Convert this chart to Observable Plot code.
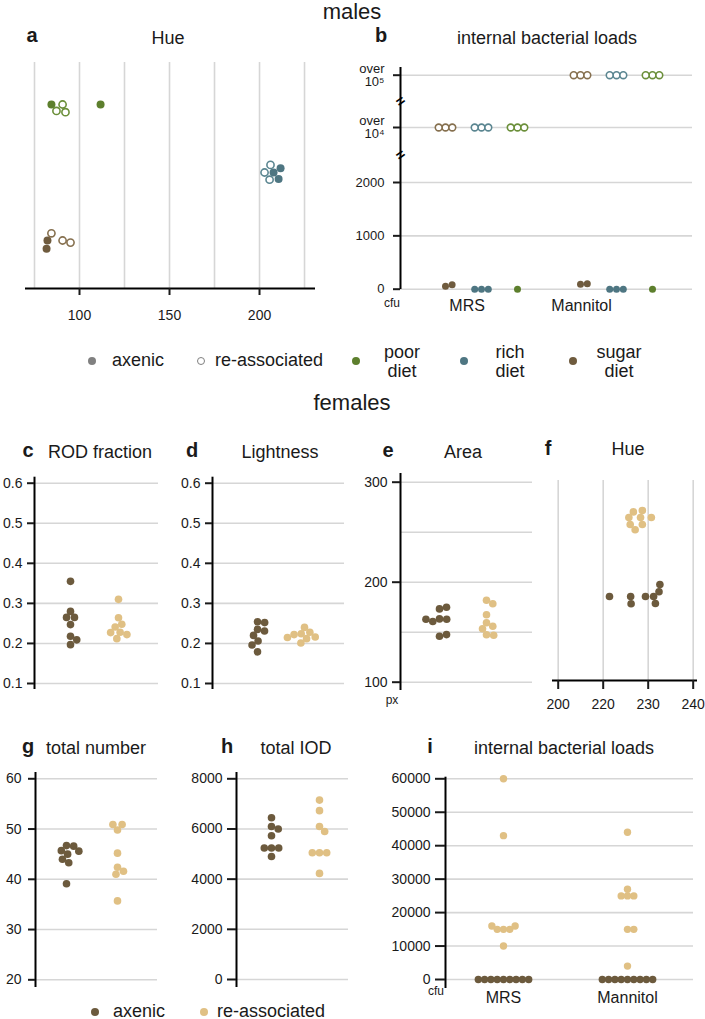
<!DOCTYPE html>
<html><head><meta charset="utf-8">
<script src="https://cdn.jsdelivr.net/npm/d3@7"></script>
<script src="https://cdn.jsdelivr.net/npm/@observablehq/plot@0.6"></script>
<style>
html,body{margin:0;padding:0;background:#fff;overflow:hidden}
#fig{position:relative;width:705px;height:1019px;font-family:"Liberation Sans",Arial,sans-serif;color:#1a1a1a}
#fig svg{position:absolute;left:0;top:0}
.t{position:absolute;transform:translate(-50%,-50%);white-space:nowrap;line-height:1}
.l{position:absolute;transform:translate(0,-50%);white-space:nowrap;line-height:1;font-size:18px}
.big{font-size:22px}
.ttl{font-size:18px}
.let{font-size:20px;font-weight:bold}
.unit{font-size:12px}
.two{text-align:center;font-size:18px;line-height:1.05}
.dot{position:absolute;width:8px;height:8px;border-radius:50%;transform:translate(-50%,-50%);box-sizing:border-box}
</style></head>
<body>
<div id="fig">
  <div class="t big" style="left:352px;top:12px">males</div>
  <div class="t let" style="left:32px;top:35px">a</div>
  <div class="t ttl" style="left:168px;top:38px">Hue</div>
  <div class="t let" style="left:381px;top:35px">b</div>
  <div class="t ttl" style="left:547px;top:38px">internal bacterial loads</div>
  <div class="t unit" style="left:392px;top:303px">cfu</div>

  <span class="dot" style="left:92px;top:361px;background:#808080"></span>
  <div class="l" style="left:112px;top:360px">axenic</div>
  <span class="dot" style="left:201px;top:361px;background:#fff;border:1.5px solid #808080"></span>
  <div class="l" style="left:215px;top:360px">re-associated</div>
  <span class="dot" style="left:356px;top:361px;background:#5d7f2d"></span>
  <div class="t two" style="left:402px;top:362px">poor<br>diet</div>
  <span class="dot" style="left:464px;top:361px;background:#4e7682"></span>
  <div class="t two" style="left:510px;top:362px">rich<br>diet</div>
  <span class="dot" style="left:573px;top:361px;background:#6f5b3e"></span>
  <div class="t two" style="left:619px;top:362px">sugar<br>diet</div>

  <div class="t big" style="left:352px;top:403px">females</div>
  <div class="t let" style="left:28px;top:450px">c</div>
  <div class="t ttl" style="left:100px;top:452px">ROD fraction</div>
  <div class="t let" style="left:192px;top:450px">d</div>
  <div class="t ttl" style="left:280px;top:452px">Lightness</div>
  <div class="t let" style="left:388px;top:450px">e</div>
  <div class="t ttl" style="left:463px;top:452px">Area</div>
  <div class="t let" style="left:548px;top:448px">f</div>
  <div class="t ttl" style="left:628px;top:449px">Hue</div>
  <div class="t unit" style="left:392px;top:700px">px</div>

  <div class="t let" style="left:28px;top:746px">g</div>
  <div class="t ttl" style="left:96px;top:748px">total number</div>
  <div class="t let" style="left:227px;top:746px">h</div>
  <div class="t ttl" style="left:296px;top:748px">total IOD</div>
  <div class="t let" style="left:430px;top:746px">i</div>
  <div class="t ttl" style="left:564px;top:748px">internal bacterial loads</div>
  <div class="t unit" style="left:436px;top:991px">cfu</div>

  <span class="dot" style="left:95px;top:1012px;background:#6c5a3d"></span>
  <div class="l" style="left:113px;top:1011px">axenic</div>
  <span class="dot" style="left:204px;top:1012px;background:#e0c084"></span>
  <div class="l" style="left:217px;top:1011px">re-associated</div>
</div>
<script>
// ================= DATA =================
const maleDiets = ["poor diet", "rich diet", "sugar diet"];
const media = ["MRS", "Mannitol"];
const treatments = ["axenic", "re-associated"];

// a — males, Hue (one array per diet and treatment)
const aHuePoorAxenic = [84.4, 111.7];
const aHuePoorReassoc = [87.2, 90.6, 92.2];
const aHueRichAxenic = [207.8, 210.6, 211.7];
const aHueRichReassoc = [202.8, 205.6, 206.1];
const aHueSugarAxenic = [82.2, 81.7];
const aHueSugarReassoc = [84.4, 90.6, 95.0];
const aGridTicks = [75, 100, 125, 150, 175, 200, 225];
const aLabelTicks = [100, 150, 200];

// b — males, internal bacterial loads (cfu); re-associated flies reported as "over 10^4" / "over 10^5"
const bDietOrder = ["sugar diet", "rich diet", "poor diet"];
const bMRSAxenicSugar = [55, 85];
const bMRSAxenicRich = [0, 0, 0];
const bMRSAxenicPoor = [0];
const bMRSReassocSugar = [10000, 10000, 10000];
const bMRSReassocRich = [10000, 10000, 10000];
const bMRSReassocPoor = [10000, 10000, 10000];
const bMannitolAxenicSugar = [95, 100];
const bMannitolAxenicRich = [0, 0, 0];
const bMannitolAxenicPoor = [0];
const bMannitolReassocSugar = [100000, 100000, 100000];
const bMannitolReassocRich = [100000, 100000, 100000];
const bMannitolReassocPoor = [100000, 100000, 100000];
const bTicks = [0, 1000, 2000, 10000, 100000];
const bTickLabels = ["0", "1000", "2000", "over\n10\u2074", "over\n10\u2075"];

// c — females, ROD fraction
const cRODAxenic = [0.355, 0.28, 0.265, 0.265, 0.247, 0.218, 0.209, 0.197];
const cRODReassoc = [0.31, 0.264, 0.248, 0.241, 0.228, 0.227, 0.222, 0.212];
const cTicks = [0.1, 0.2, 0.3, 0.4, 0.5, 0.6];
// d — females, Lightness
const dLightAxenic = [0.254, 0.252, 0.235, 0.231, 0.22, 0.206, 0.196, 0.179];
const dLightReassoc = [0.24, 0.228, 0.224, 0.222, 0.216, 0.215, 0.212, 0.201];
const dTicks = [0.1, 0.2, 0.3, 0.4, 0.5, 0.6];
// e — females, Area (px)
const eAreaAxenic = [163.3, 163, 160.7, 163, 173.3, 175, 146, 147.6];
const eAreaReassoc = [182, 178.5, 167.5, 159.5, 156, 153.5, 147.5, 147];
const eTicks = [100, 200, 300];
const eGridTicks = [100, 150, 200, 250, 300];
// f — females, Hue
const fHueAxenic = [221.4, 226.1, 226.2, 229.4, 231.2, 231.6, 232.4, 232.6];
const fHueReassoc = [225.7, 226.0, 226.7, 227.1, 228.3, 228.7, 228.7, 230.7];
const fTicks = [210, 220, 230, 240];
const fTickLabels = ["200", "220", "230", "240"];
// g — females, total number
const gNumAxenic = [46.7, 46.6, 45.7, 45.6, 45.0, 44.0, 43.3, 39.1];
const gNumReassoc = [49.8, 50.9, 50.9, 45.2, 42.4, 41.6, 41.0, 35.7];
const gTicks = [20, 30, 40, 50, 60];
// h — females, total IOD
const hIODAxenic = [6450, 6100, 6000, 5730, 5240, 5240, 5240, 4900];
const hIODReassoc = [7150, 6730, 6100, 5900, 5050, 5050, 5050, 4230];
const hTicks = [0, 2000, 4000, 6000, 8000];
// i — females, internal bacterial loads (cfu)
const iMRSAxenic = [0, 0, 0, 0, 0, 0, 0, 0, 0];
const iMRSReassoc = [60000, 43000, 15000, 15000, 15000, 16000, 16000, 10000];
const iMannitolAxenic = [0, 0, 0, 0, 0, 0, 0, 0, 0];
const iMannitolReassoc = [44000, 25000, 25000, 25000, 27000, 15000, 15000, 4000];
const iTicks = [0, 10000, 20000, 30000, 40000, 50000, 60000];

// ================= STYLE =================
const W = 705, H = 1019;
const FONT = '"Liberation Sans", Arial, sans-serif';
const GRID = "#d6d6d6";
const STYLE = {background: "none", fontFamily: FONT, fontSize: "14px", color: "#1a1a1a", overflow: "visible"};
const dietFill = {"poor diet": "#5d7f2d", "rich diet": "#4e7682", "sugar diet": "#6f5b3e"};
const dietStroke = {"poor diet": "#6b8f3a", "rich diet": "#5b8691", "sugar diet": "#86704f"};
const femaleFill = {"axenic": "#6c5a3d", "re-associated": "#e0c084"};
const fig = document.getElementById("fig");
const box = (x0, x1, y0, y1) => ({width: W, height: H, marginLeft: x0, marginRight: W - x1, marginTop: y0, marginBottom: H - y1});

// greedy beeswarm: offsets (px) across the value axis, per slot
function swarm(items, posPx, dist) {
  const groups = new Map();
  for (const it of items) {
    const p = posPx(it.value);
    const placed = groups.get(it.slot) ?? [];
    const cands = [0];
    for (const q of placed) {
      const d = Math.abs(p - q.p);
      if (d < dist) { const h = Math.sqrt(dist * dist - d * d); cands.push(q.o + h, q.o - h); }
    }
    cands.sort((a, b) => Math.abs(a) - Math.abs(b) || b - a);
    const ok = c => placed.every(q => (p - q.p) ** 2 + (c - q.o) ** 2 >= dist * dist - 0.5);
    const off = cands.find(ok) ?? 0;
    placed.push({p, o: off});
    groups.set(it.slot, placed);
    it.off = off;
  }
  return items;
}
const rows = (values, props) => values.map(value => ({value, ...props}));

// ---------- row panels (a, f): value on x, groups stacked on y ----------
function rowPanel({x0, x1, y0, y1, xDomain, rowCenters, items, dist, grid, ticks, fmt, tickSize, tickPadding, rFill, rOpen}) {
  const ppu = rowCenters[1] - rowCenters[0];
  const yDomain = [(y0 - rowCenters[0]) / ppu, (y1 - rowCenters[0]) / ppu];
  swarm(items, d3.scaleLinear(xDomain, [x0, x1]), dist);
  for (const d of items) d.y = d.slot + d.off / ppu;
  return Plot.plot({
    ...box(x0, x1, y0, y1), style: STYLE,
    x: {type: "linear", domain: xDomain, label: null},
    y: {type: "linear", domain: yDomain, reverse: true, axis: null, label: null},
    color: {type: "identity"},
    marks: [
      Plot.ruleX(grid, {stroke: GRID, strokeWidth: 1.6}),
      Plot.ruleY([yDomain[1]], {stroke: "black", strokeWidth: 2}),
      Plot.axisX({ticks, tickFormat: fmt, tickSize, tickPadding, strokeWidth: 2, fontSize: 14, label: null}),
      Plot.dot(items.filter(d => !d.open), {x: "value", y: "y", r: rFill, fill: "color"}),
      Plot.dot(items.filter(d => d.open), {x: "value", y: "y", r: rOpen, fill: "white", stroke: "color", strokeWidth: 1.6})
    ]
  });
}

// ---------- column panels (b, c, d, e, g, h, i): value on y, groups side by side ----------
function columnPanel({x0, x1, y0, y1, slotPx, yScale, yPx, items, dist, ticks, grid = ticks, fmt = d => String(d), tickSize = 7, tickPadding = 5, fontSize = 14, r = 3.8, rOpen = 3.4, xTicks = null, xFmt = null, xPad = 3, extra = []}) {
  const ppu = slotPx[1] - slotPx[0];
  const xDomain = [(x0 - slotPx[0]) / ppu, (x1 - slotPx[0]) / ppu];
  swarm(items, yPx, dist);
  for (const d of items) d.x = d.slot + d.off / ppu;
  const marks = [
    Plot.ruleY(grid, {stroke: GRID, strokeWidth: 1.6}),
    Plot.ruleX([xDomain[0]], {stroke: "black", strokeWidth: 2}),
    Plot.axisY({ticks, tickFormat: fmt, tickSize, tickPadding, strokeWidth: 2, fontSize, lineHeight: 1, label: null}),
    ...extra.map(f => f(xDomain)),
    Plot.dot(items.filter(d => !d.open), {x: "x", y: "value", r, fill: "color"}),
    Plot.dot(items.filter(d => d.open), {x: "x", y: "value", r: rOpen, fill: "white", stroke: "color", strokeWidth: 1.6})
  ];
  if (xTicks) marks.push(Plot.axisX({ticks: xTicks, tickFormat: xFmt, tickSize: 0, tickPadding: xPad, fontSize: 16, label: null}));
  return Plot.plot({
    ...box(x0, x1, y0, y1), style: STYLE,
    x: {type: "linear", domain: xDomain, label: null, ...(xTicks ? {} : {axis: null})},
    y: {type: "linear", ...yScale, label: null},
    color: {type: "identity"},
    marks
  });
}

// ===== a =====
{
  const aAx = [aHuePoorAxenic, aHueRichAxenic, aHueSugarAxenic];
  const aRe = [aHuePoorReassoc, aHueRichReassoc, aHueSugarReassoc];
  const items = [];
  maleDiets.forEach((diet, i) => {
    items.push(...rows(aAx[i], {slot: i, color: dietFill[diet], open: false}));
    items.push(...rows(aRe[i], {slot: i, color: dietStroke[diet], open: true}));
  });
  fig.appendChild(rowPanel({x0: 25, x1: 315, y0: 62, y1: 288, xDomain: [70, 231.1], rowCenters: [104, 172],
    items, dist: 8.2, grid: aGridTicks, ticks: aLabelTicks, fmt: d => String(d), tickSize: 7, tickPadding: 15, rFill: 4, rOpen: 3.6}));
}

// ===== b =====
{
  const table = {
    MRS: {ax: [bMRSAxenicSugar, bMRSAxenicRich, bMRSAxenicPoor], re: [bMRSReassocSugar, bMRSReassocRich, bMRSReassocPoor]},
    Mannitol: {ax: [bMannitolAxenicSugar, bMannitolAxenicRich, bMannitolAxenicPoor], re: [bMannitolReassocSugar, bMannitolReassocRich, bMannitolReassocPoor]}
  };
  const mediumGap = 3.75; // slots between media
  const items = [];
  media.forEach((m, mi) => bDietOrder.forEach((diet, k) => {
    const slot = mi * mediumGap + k;
    items.push(...rows(table[m].ax[k], {slot, color: dietFill[diet], open: false}));
    items.push(...rows(table[m].re[k], {slot, color: dietStroke[diet], open: true}));
  }));
  const bRange = [288.7, 182, 127, 74.7];
  const yDom = [0, 2000, 10000, 100000];
  const yPx = d3.scaleLinear(yDom, bRange);
  const breaks = [(2000 + 10000) / 2, (10000 + 100000) / 2];
  const labelSlots = [0.6, 3.78];
  fig.appendChild(columnPanel({x0: 400, x1: 692, y0: 67, y1: 289, slotPx: [445, 481],
    yScale: {domain: yDom, range: bRange}, yPx, items, dist: 6.8,
    ticks: bTicks, fmt: d => bTickLabels[bTicks.indexOf(d)], tickSize: 7, tickPadding: 9, fontSize: 13,
    r: 3.5, rOpen: 3.4,
    xTicks: labelSlots, xFmt: d => media[labelSlots.indexOf(d)], xPad: 10,
    extra: [xd => Plot.text(breaks, {x: xd[0], y: d => d, text: () => "=", rotate: -35, fontSize: 15, fontWeight: "bold", fill: "black"})]
  }));
}

// ===== female column panels =====
function femaleItems(ax, re) {
  return [...rows(ax, {slot: 0, color: femaleFill.axenic, open: false}),
          ...rows(re, {slot: 1, color: femaleFill["re-associated"], open: false})];
}
function linearPanel(o) {
  const yPx = d3.scaleLinear(o.yDomain, [o.y1, o.y0]);
  return columnPanel({...o, yPx, yScale: {domain: o.yDomain}});
}
fig.appendChild(linearPanel({x0: 34, x1: 158, y0: 476.7, y1: 689, slotPx: [70, 118], yDomain: [0.085, 0.615],
  items: femaleItems(cRODAxenic, cRODReassoc), dist: 7.2, ticks: cTicks, fmt: d3.format(".1f")}));
fig.appendChild(linearPanel({x0: 212, x1: 344, y0: 476.7, y1: 689, slotPx: [257, 304], yDomain: [0.085, 0.615],
  items: femaleItems(dLightAxenic, dLightReassoc), dist: 7.2, ticks: dTicks, fmt: d3.format(".1f")}));
fig.appendChild(linearPanel({x0: 400, x1: 532, y0: 473, y1: 690, slotPx: [439, 486], yDomain: [91.7, 308.7],
  items: femaleItems(eAreaAxenic, eAreaReassoc), dist: 7.2, ticks: eTicks, grid: eGridTicks, tickSize: 8}));
fig.appendChild(linearPanel({x0: 35, x1: 157, y0: 772, y1: 987, slotPx: [66, 117], yDomain: [18.47, 61.25],
  items: femaleItems(gNumAxenic, gNumReassoc), dist: 7.2, ticks: gTicks, tickPadding: 7}));
fig.appendChild(linearPanel({x0: 236, x1: 348, y0: 772, y1: 987, slotPx: [271, 319], yDomain: [-319, 8251],
  items: femaleItems(hIODAxenic, hIODReassoc), dist: 7.2, ticks: hTicks, tickSize: 9}));
{
  const items = [
    ...rows(iMRSAxenic, {slot: 0, color: femaleFill.axenic, open: false}),
    ...rows(iMRSReassoc, {slot: 0, color: femaleFill["re-associated"], open: false}),
    ...rows(iMannitolAxenic, {slot: 1, color: femaleFill.axenic, open: false}),
    ...rows(iMannitolReassoc, {slot: 1, color: femaleFill["re-associated"], open: false})
  ];
  fig.appendChild(linearPanel({x0: 445, x1: 693, y0: 776.7, y1: 988, slotPx: [503, 627], yDomain: [-2690, 60478],
    items, dist: 6.3, ticks: iTicks, tickSize: 10, r: 3.7,
    xTicks: [0, 1], xFmt: d => media[d], xPad: 3}));
}

// ===== f =====
{
  const items = [
    ...rows(fHueReassoc, {slot: 0, color: femaleFill["re-associated"], open: false}),
    ...rows(fHueAxenic, {slot: 1, color: femaleFill.axenic, open: false})
  ];
  fig.appendChild(rowPanel({x0: 552, x1: 697, y0: 480, y1: 680, xDomain: [208.733, 240.956], rowCenters: [517, 596],
    items, dist: 7.2, grid: fTicks, ticks: fTicks, fmt: d => fTickLabels[fTicks.indexOf(d)], tickSize: 9, tickPadding: 10, rFill: 3.8, rOpen: 3.4}));
}
</script>
</body></html>
